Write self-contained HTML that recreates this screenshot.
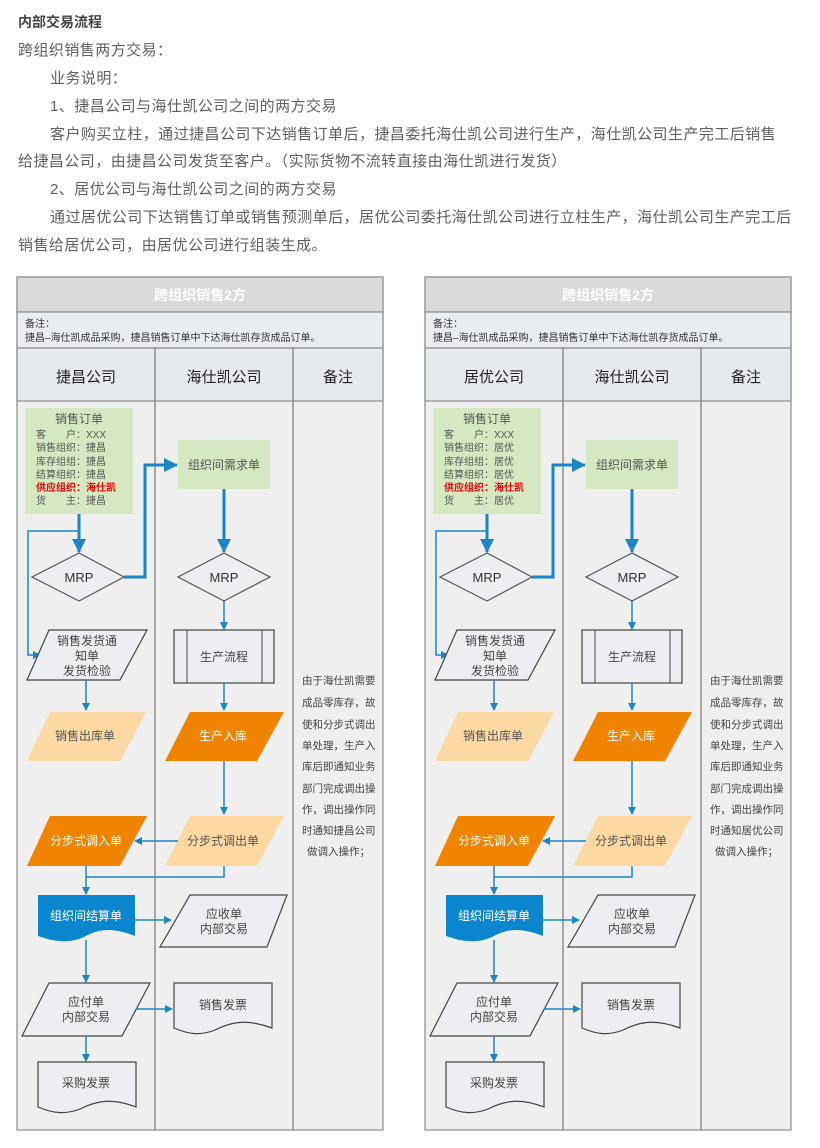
<!DOCTYPE html>
<html><head><meta charset="utf-8"><style>
html,body{margin:0;padding:0;background:#fff;width:820px;height:1148px;overflow:hidden}
svg{display:block}
text{font-family:"Liberation Sans","Noto Sans CJK SC",sans-serif}
</style></head><body>
<svg width="820" height="1148" viewBox="0 0 820 1148" xmlns="http://www.w3.org/2000/svg">
<defs>
<marker id="ah" markerWidth="8" markerHeight="8" refX="7" refY="4" orient="auto" markerUnits="userSpaceOnUse"><path d="M0,0 L8,4 L0,8 z" fill="#1a86c8"/></marker>
<marker id="ahb" markerWidth="14" markerHeight="14" refX="13" refY="7" orient="auto" markerUnits="userSpaceOnUse"><path d="M0,0 L14,7 L0,14 z" fill="#1a86c8"/></marker>
</defs>
<g fill="#606060" font-size="15" letter-spacing="0.45">
<text x="18" y="27" font-weight="bold" font-size="14" fill="#444" letter-spacing="0">内部交易流程</text>
<text x="18" y="55">跨组织销售两方交易：</text>
<text x="50" y="83">业务说明：</text>
<text x="50" y="111">1、捷昌公司与海仕凯公司之间的两方交易</text>
<text x="50" y="139">客户购买立柱，通过捷昌公司下达销售订单后，捷昌委托海仕凯公司进行生产，海仕凯公司生产完工后销售</text>
<text x="18" y="166">给捷昌公司，由捷昌公司发货至客户。（实际货物不流转直接由海仕凯进行发货）</text>
<text x="50" y="194">2、居优公司与海仕凯公司之间的两方交易</text>
<text x="50" y="222">通过居优公司下达销售订单或销售预测单后，居优公司委托海仕凯公司进行立柱生产，海仕凯公司生产完工后</text>
<text x="18" y="250">销售给居优公司，由居优公司进行组装生成。</text>
</g>

<g id="P">
<rect x="17" y="277" width="366" height="853" fill="#efefef" stroke="#8a8a8a" stroke-width="1.2"/>
<rect x="17" y="277" width="366" height="35" fill="#dadada" stroke="#8a8a8a" stroke-width="1.2"/>
<text x="200" y="300" text-anchor="middle" font-size="14" font-weight="bold" fill="#fff">跨组织销售2方</text>
<rect x="17" y="312" width="366" height="36" fill="#e9ecf1" stroke="#8a8a8a" stroke-width="1.2"/>
<text x="25" y="327" font-size="10" fill="#333">备注：</text>
<text x="25" y="341" font-size="10" fill="#333">捷昌–海仕凯成品采购，捷昌销售订单中下达海仕凯存货成品订单。</text>
<rect x="17" y="348" width="366" height="53" fill="#e6e9ee" stroke="#8a8a8a" stroke-width="1.2"/>
<line x1="155" y1="348" x2="155" y2="1130" stroke="#777" stroke-width="1.2"/>
<line x1="293" y1="348" x2="293" y2="1130" stroke="#777" stroke-width="1.2"/>
<text x="86" y="382" text-anchor="middle" font-size="15" fill="#222">捷昌公司</text>
<text x="224" y="382" text-anchor="middle" font-size="15" fill="#222">海仕凯公司</text>
<text x="338" y="382" text-anchor="middle" font-size="15" fill="#222">备注</text>
</g>
<use href="#P" x="408"/>

<g id="S">
<rect x="178" y="440" width="92" height="49" fill="#d5e8c2"/>
<text x="224" y="469" text-anchor="middle" font-size="12" fill="#555">组织间需求单</text>
<line x1="79" y1="514" x2="79" y2="552" stroke="#1a86c8" stroke-width="3" marker-end="url(#ahb)"/>
<line x1="224" y1="489" x2="224" y2="552" stroke="#1a86c8" stroke-width="3" marker-end="url(#ahb)"/>
<polyline points="124,577 145,577 145,465 177,465" fill="none" stroke="#1a86c8" stroke-width="3" marker-end="url(#ahb)"/>
<polyline points="79,531 28,531 28,655 40,655" fill="none" stroke="#1a86c8" stroke-width="1.5" marker-end="url(#ah)"/>
<polygon points="79,553 124,577 79,601 32,577" fill="#eceef1" stroke="#555" stroke-width="1.2"/>
<text x="79" y="582" text-anchor="middle" font-size="13" fill="#333">MRP</text>
<polygon points="224,553 270,577 224,601 178,577" fill="#eceef1" stroke="#555" stroke-width="1.2"/>
<text x="224" y="582" text-anchor="middle" font-size="13" fill="#333">MRP</text>
<line x1="224" y1="601" x2="224" y2="629" stroke="#1a86c8" stroke-width="1.5" marker-end="url(#ah)"/>
<polygon points="49,630 147,630 120,680 27,680" fill="#eceef1" stroke="#444" stroke-width="1.2"/>
<text x="87" y="645" text-anchor="middle" font-size="12" fill="#444">销售发货通</text>
<text x="87" y="660" text-anchor="middle" font-size="12" fill="#444">知单</text>
<text x="87" y="675" text-anchor="middle" font-size="12" fill="#444">发货检验</text>
<line x1="86" y1="680" x2="86" y2="710" stroke="#1a86c8" stroke-width="1.5" marker-end="url(#ah)"/>
<polygon points="50,712 146,712 120,761 27,761" fill="#fcd9a3"/>
<text x="85" y="740" text-anchor="middle" font-size="12" fill="#555">销售出库单</text>
<rect x="174" y="630" width="100" height="53" fill="#eceef1" stroke="#444" stroke-width="1.2"/>
<line x1="187" y1="630" x2="187" y2="683" stroke="#444"/>
<line x1="262" y1="630" x2="262" y2="683" stroke="#444"/>
<text x="224" y="661" text-anchor="middle" font-size="12" fill="#444">生产流程</text>
<line x1="224" y1="683" x2="224" y2="710" stroke="#1a86c8" stroke-width="1.5" marker-end="url(#ah)"/>
<polygon points="190,712 284,712 257,761 165,761" fill="#f08300"/>
<text x="223" y="740" text-anchor="middle" font-size="12" fill="#fff">生产入库</text>
<line x1="224" y1="761" x2="224" y2="814" stroke="#1a86c8" stroke-width="1.5" marker-end="url(#ah)"/>
<polygon points="190,816 284,816 257,866 165,866" fill="#fcd9a3"/>
<text x="223" y="845" text-anchor="middle" font-size="12" fill="#555">分步式调出单</text>
<polygon points="50,816 147,816 120,866 27,866" fill="#f08300"/>
<text x="86" y="845" text-anchor="middle" font-size="12" fill="#fff">分步式调入单</text>
<line x1="178" y1="841" x2="135" y2="841" stroke="#1a86c8" stroke-width="1.5" marker-end="url(#ah)"/>
<polyline points="224,866 224,877 86,877" fill="none" stroke="#1a86c8" stroke-width="1.5"/>
<line x1="86" y1="866" x2="86" y2="894" stroke="#1a86c8" stroke-width="1.5" marker-end="url(#ah)"/>
<path d="M38,895 L135,895 L135,936 C115,928 100,928 86,936 C70,944 55,942 38,936 Z" fill="#0a86cf"/>
<text x="86" y="920" text-anchor="middle" font-size="12" fill="#fff">组织间结算单</text>
<line x1="135" y1="920" x2="171" y2="920" stroke="#1a86c8" stroke-width="1.5" marker-end="url(#ah)"/>
<polygon points="190,895 287,895 267,947 160,947" fill="#eceef1" stroke="#444" stroke-width="1.2"/>
<text x="224" y="918" text-anchor="middle" font-size="12" fill="#444">应收单</text>
<text x="224" y="933" text-anchor="middle" font-size="12" fill="#444">内部交易</text>
<line x1="86" y1="940" x2="86" y2="982" stroke="#1a86c8" stroke-width="1.5" marker-end="url(#ah)"/>
<polygon points="49,983 150,983 122,1036 22,1036" fill="#eceef1" stroke="#444" stroke-width="1.2"/>
<text x="86" y="1006" text-anchor="middle" font-size="12" fill="#444">应付单</text>
<text x="86" y="1021" text-anchor="middle" font-size="12" fill="#444">内部交易</text>
<line x1="136" y1="1009" x2="172" y2="1009" stroke="#1a86c8" stroke-width="1.5" marker-end="url(#ah)"/>
<path d="M174,983 L272,983 L272,1028 C250,1020 235,1020 215,1030 C200,1036 188,1034 174,1028 Z" fill="#eceef1" stroke="#444" stroke-width="1.2"/>
<text x="223" y="1009" text-anchor="middle" font-size="12" fill="#444">销售发票</text>
<line x1="86" y1="1036" x2="86" y2="1061" stroke="#1a86c8" stroke-width="1.5" marker-end="url(#ah)"/>
<path d="M38,1062 L136,1062 L136,1107 C115,1099 100,1099 80,1109 C65,1115 52,1113 38,1107 Z" fill="#eceef1" stroke="#444" stroke-width="1.2"/>
<text x="86" y="1087" text-anchor="middle" font-size="12" fill="#444">采购发票</text>
<g font-size="10.5" fill="#444">
<text x="302" y="684">由于海仕凯需要</text>
<text x="302" y="706">成品零库存，故</text>
<text x="302" y="728">使和分步式调出</text>
<text x="302" y="749">单处理，生产入</text>
<text x="302" y="770">库后即通知业务</text>
<text x="302" y="792">部门完成调出操</text>
<text x="302" y="813">作，调出操作同</text>
<text x="307" y="855">做调入操作；</text>
</g>
<rect x="25" y="408" width="108" height="106" fill="#d5e8c2"/>
<text x="79" y="423" text-anchor="middle" font-size="12" fill="#555">销售订单</text>
<g font-size="10" fill="#555">
<text x="36" y="438">客　　户：XXX</text>
<text x="36" y="504">货　　主：</text>
</g>
<text x="36" y="491" font-size="10" font-weight="bold" fill="#e00">供应组织：海仕凯</text>
<g font-size="10" fill="#555">
<text x="36" y="451">销售组织：</text>
<text x="36" y="465">库存组组：</text>
<text x="36" y="478">结算组织：</text>
</g>
</g>
<use href="#S" x="408"/>

<g font-size="10" fill="#555">
<text x="86" y="451">捷昌</text><text x="86" y="465">捷昌</text><text x="86" y="478">捷昌</text><text x="86" y="504">捷昌</text>
<text x="494" y="451">居优</text><text x="494" y="465">居优</text><text x="494" y="478">居优</text><text x="494" y="504">居优</text>
</g>
<g font-size="10.5" fill="#444">
<text x="302" y="834">时通知捷昌公司</text>
<text x="710" y="834">时通知居优公司</text>
</g>
<rect x="426" y="349" width="136" height="51" fill="#e6e9ee"/>
<text x="494" y="382" text-anchor="middle" font-size="15" fill="#222">居优公司</text>
<rect x="18" y="349" width="136" height="51" fill="#e6e9ee"/>
<text x="86" y="382" text-anchor="middle" font-size="15" fill="#222">捷昌公司</text>
</svg>
</body></html>
